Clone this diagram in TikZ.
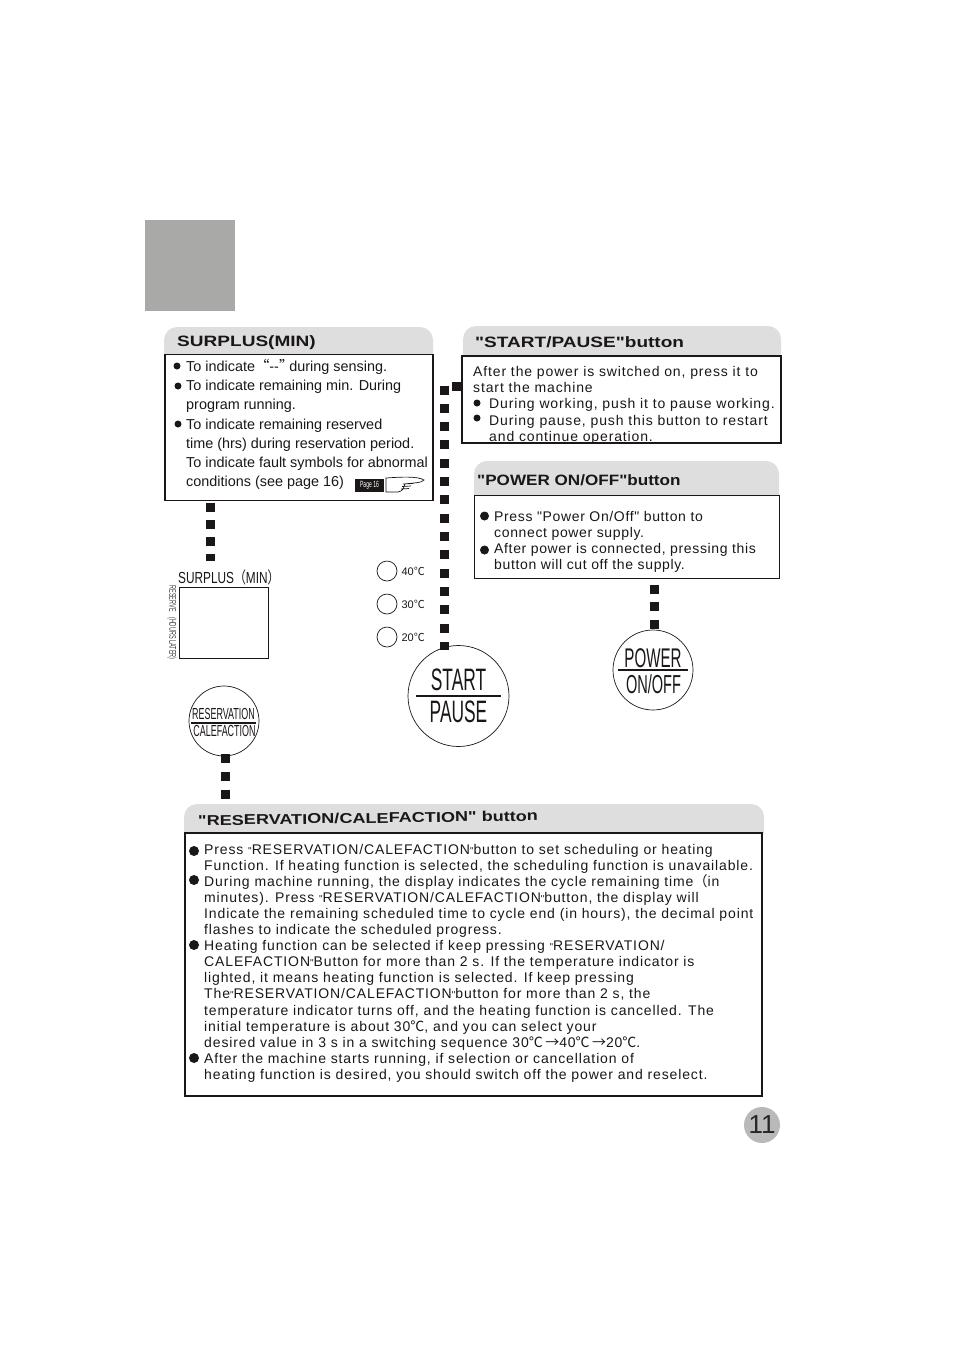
\documentclass[tikz,border=0pt]{standalone}
\usepackage{fontspec}
\usepackage{xcolor}
\usetikzlibrary{positioning}
\setmainfont{Liberation Sans}
\newfontfamily\cjk{Noto Sans CJK SC}
\newfontfamily\spaced[LetterSpace=6.2]{Liberation Sans}
\newfontfamily\spacedp[LetterSpace=4.6]{Liberation Sans}
\newfontfamily\narrow[FakeStretch=0.56]{Liberation Sans}
\newfontfamily\headfont[FakeStretch=1.14]{Liberation Sans Bold}
\newfontfamily\headwide[FakeStretch=1.27]{Liberation Sans Bold}
\definecolor{cornerGray}{HTML}{A9A9A7}
\definecolor{tabGray}{HTML}{DEDEDE}
\definecolor{pageGray}{HTML}{B9B9B9}
\definecolor{inkBlack}{HTML}{1A1716}
\newcommand{\dc}{{\cjk ℃}}
\newcommand{\smq}{{\fontsize{10}{10}\selectfont"}}

\begin{document}
\begin{tikzpicture}[
  x=1pt, y=1pt,
  panel/.style={draw=inkBlack, anchor=north west, inner sep=0pt, outer sep=0pt, line width=1.6pt},
  tab/.style={fill=tabGray, rounded corners=13pt},
  tabtitle/.style={anchor=base west, inner sep=0pt, text=inkBlack, font=\headwide\fontsize{15}{15}\selectfont},
  leftbody/.style={anchor=north west, inner sep=0pt, align=left, text=inkBlack, font=\fontsize{14.4}{19.25}\selectfont},
  startbody/.style={anchor=north west, inner sep=0pt, align=left, text=inkBlack, font=\spaced\fontsize{14}{16.3}\selectfont},
  powerbody/.style={anchor=north west, inner sep=0pt, align=left, text=inkBlack, font=\spacedp\fontsize{14}{16.2}\selectfont},
  resbody/.style={anchor=north west, inner sep=0pt, align=left, text=inkBlack, font=\spaced\fontsize{14}{16.07}\selectfont},
  bullet/.style={circle, fill=inkBlack, inner sep=0pt, minimum size=#1},
  sqchain/.style={draw=inkBlack, line width=9pt, dash pattern=on 9pt off #1},
  btn/.style={circle, draw=inkBlack, inner sep=0pt, line width=0.7pt},
  btnline/.style={draw=inkBlack, line width=1.2pt},
  btntext/.style={inner sep=0pt, text=inkBlack, font=\narrow\fontsize{#1}{#1}\selectfont},
  tempdot/.style={circle, draw=inkBlack, minimum size=20pt, inner sep=0pt, line width=0.7pt},
  templabel/.style={right=4pt of #1, inner sep=0pt, text=inkBlack, font=\fontsize{11}{11}\selectfont}
]
\useasboundingbox (0,0) rectangle (954,-1350);
\fill[cornerGray] (145,-220) rectangle (235,-311);

% tabs behind the panels
\fill[tab] (164,-355) -- (164,-327) -- (433,-327) [sharp corners] -- (433,-355) -- cycle;
\fill[tab] (463,-357) -- (463,-326) -- (781,-326) [sharp corners] -- (781,-357) -- cycle;
\fill[tab] (474,-496) -- (474,-461) -- (779,-461) [sharp corners] -- (779,-496) -- cycle;
\fill[tab] (184,-834) -- (184,-804) -- (764,-804) [sharp corners] -- (764,-834) -- cycle;

% panels
\node[panel, minimum width=268pt, minimum height=146pt] (surplusbox) at (165,-354.5) {};
\node[panel, minimum width=319pt, minimum height=87pt] (startbox) at (462,-356) {};
\node[panel, minimum width=305pt, minimum height=83pt] (powerbox) at (474.5,-495.5) {};
\node[panel, minimum width=577pt, minimum height=263pt] (resbox) at (185,-833) {};

% titles
\node[tabtitle] (surplustitle) at (177,-346) {SURPLUS(MIN)};
\node[tabtitle] (starttitle) at (475,-347) {"START/PAUSE"button};
\node[tabtitle, font=\headfont\fontsize{15}{15}\selectfont] (powertitle) at (477,-485) {"POWER ON/OFF"button};
\node[tabtitle, rotate=0.8, font=\headwide\fontsize{14.25}{15}\selectfont] (restitle) at (198,-825.5) {"RESERVATION/CALEFACTION" button};

% body text
\node[leftbody] (surplustext) at (186,-359) {To indicate{\cjk “}-{}-{\cjk ”}\hspace{-4pt}during sensing.\\
To indicate remaining min. During\\
program running.\\
To indicate remaining reserved\\
time (hrs) during reservation period.\\
To indicate fault symbols for abnormal\\
conditions (see page 16)};
\node[startbody] (starttext) at (473,-366) {After the power is switched on, press it to\\
start the machine\\
\hspace*{16pt}During working, push it to pause working.\\
\hspace*{16pt}During pause, push this button to restart\\
\hspace*{16pt}and continue operation.};
\node[powerbody] (powertext) at (494,-511) {Press "Power On/Off" button to\\
connect power supply.\\
After power is connected, pressing this\\
button will cut off the supply.};
\node[resbody] (restext) at (204,-844) {Press \smq RESERVATION/CALEFACTION\smq button to set scheduling or heating\\
Function. If heating function is selected, the scheduling function is unavailable.\\
During machine running, the display indicates the cycle remaining time{\cjk （}in\\
minutes). Press \smq RESERVATION/CALEFACTION\smq button, the display will\\
Indicate the remaining scheduled time to cycle end (in hours), the decimal point\\
flashes to indicate the scheduled progress.\\
Heating function can be selected if keep pressing \smq RESERVATION/\\
CALEFACTION\smq Button for more than 2 s. If the temperature indicator is\\
lighted, it means heating function is selected. If keep pressing\\
The\smq RESERVATION/CALEFACTION\smq button for more than 2 s, the\\
temperature indicator turns off, and the heating function is cancelled. The\\
initial temperature is about 30\dc, and you can select your\\
desired value in 3 s in a switching sequence 30\dc\,{\cjk →}40\dc\,{\cjk →}20\dc.\\
After the machine starts running, if selection or cancellation of\\
heating function is desired, you should switch off the power and reselect.};

% bullets
\foreach \bx/\by in {177/366, 178/386, 178/424, 477/403, 477/418}
  \node[bullet=7pt] at (\bx,-\by) {};
\foreach \bx/\by in {484.5/516, 484.5/550}
  \node[bullet=9pt] at (\bx,-\by) {};
\foreach \bx/\by in {194/851, 194/880, 194/945, 194/1058}
  \node[bullet=10pt] at (\bx,-\by) {};

% page tag with the pointing hand
\node[fill=inkBlack, text=white, minimum width=29pt, minimum height=13pt, inner sep=0pt,
      font=\narrow\fontsize{9}{9}\selectfont] (pagetag) at (369.5,-485.5) {Page 16};
\coordinate (handtop) at (386,-478);
\coordinate (handbot) at (386,-492);
\draw[inkBlack, line width=0.7pt] (handbot) -- (handtop)
  .. controls (400,-477) and (418,-476) .. (424,-480)
  .. controls (422,-483) and (412,-483) .. (404,-484)
  (403,-484) -- (413,-483.5) (402,-486.5) -- (411,-486) (401,-489) -- (409,-488.5)
  (405,-484) .. controls (403,-489) and (403,-491) .. (398,-492) -- (handbot);

% display
\node[draw=inkBlack, anchor=north west, minimum width=89pt, minimum height=71pt, inner sep=0pt, outer sep=0pt, line width=0.8pt] (display) at (179,-587) {};
\node[anchor=south west, inner sep=0pt, text=inkBlack, font=\fontsize{16}{16}\selectfont] (displaylabel) at (178,-585)
  {\scalebox{0.74}[1]{SURPLUS{\cjk （}MIN{\cjk ）}}};
\node[rotate=-90, inner sep=0pt, text=black!75, font=\narrow\fontsize{9.8}{10}\selectfont] (hourslabel) at (172,-622.5) {RESERVE\hspace{4pt} (HOURS LATER)};

% temperature lamps
\node[tempdot] (lampa) at (387,-571) {};
\node[tempdot] (lampb) at (387,-604) {};
\node[tempdot] (lampc) at (387,-637) {};
\node[templabel=lampa] (lampatext) {40\dc};
\node[templabel=lampb] (lampbtext) {30\dc};
\node[templabel=lampc] (lampctext) {20\dc};

% buttons
\node[btn, minimum size=101pt] (startbtn) at (458.5,-696) {};
\node[btn, minimum size=80pt] (powerbtn) at (653,-670) {};
\node[btn, minimum size=70pt] (resbtn) at (224,-721) {};
\draw[btnline] (416,-696) -- (501,-696);
\draw[btnline] (618,-670) -- (688,-670);
\draw[btnline] (191,-723) -- (256,-723);
\node[btntext=31] (starttop) at (458.5,-680) {START};
\node[btntext=31] (startbot) at (458.5,-712) {PAUSE};
\node[btntext=27] (powertop) at (653,-658) {POWER};
\node[btntext=26] (powerbot) at (653.5,-684) {ON/OFF};
\node[btntext=16] (restop) at (223.5,-714) {RESERVATION};
\node[btntext=16] (resbot) at (224.5,-731) {CALEFACTION};

% square dotted links
\coordinate (linkaTop) at (210,-502.5);
\coordinate (linkaEnd) at (210,-560.5);
\coordinate (linkbTop) at (444,-385.5);
\coordinate (linkbEnd) at (444,-650);
\coordinate (linkcTop) at (654,-584.5);
\coordinate (linkcEnd) at (654,-628.5);
\coordinate (linkdTop) at (225,-753.5);
\coordinate (linkdEnd) at (225,-798.5);
\draw[sqchain=8.3pt] (linkaTop) -- (linkaEnd);
\draw[sqchain=9.33pt] (linkbTop) -- (linkbEnd);
\draw[sqchain=8.5pt] (linkcTop) -- (linkcEnd);
\draw[sqchain=9pt] (linkdTop) -- (linkdEnd);
\node[fill=inkBlack, minimum size=9pt, inner sep=0pt] (linkbStep) at (456,-386) {};

% page number
\node[circle, fill=pageGray, minimum size=36pt, inner sep=0pt, text=black!85, font=\fontsize{26}{26}\selectfont] (pagenum) at (762,-1125) {11};
\end{tikzpicture}
\end{document}
